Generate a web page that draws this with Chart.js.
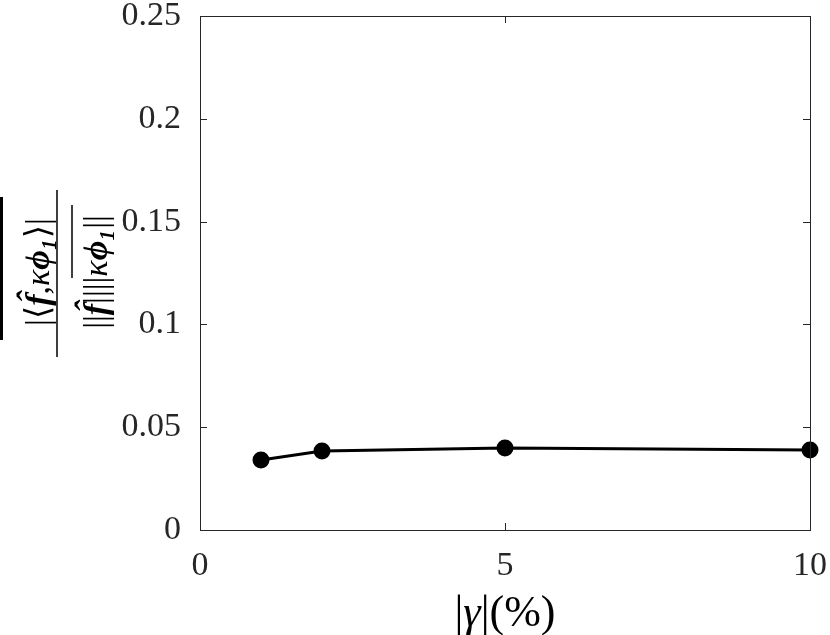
<!DOCTYPE html>
<html>
<head>
<meta charset="utf-8">
<script src="https://cdn.jsdelivr.net/npm/chart.js@4.4.0/dist/chart.umd.min.js"></script>
<style>
  html, body { margin: 0; padding: 0; background: #fff; }
  #wrap { width: 830px; height: 635px; }
</style>
</head>
<body>
<div id="wrap"><canvas id="c" width="830" height="635"></canvas></div>
<script>
const gammaPct = [1, 2, 5, 10];
const ratio = [0.0340, 0.0384, 0.0399, 0.0389];
const xTicks = [0, 5, 10];
const yTicks = [0, 0.05, 0.1, 0.15, 0.2, 0.25];

const axisColor = '#262626';
const serif = '"Liberation Serif", "DejaVu Serif", serif';

// write a run of [text, fontStyle] pieces centred on cx
function drawRun(ctx, parts, size, cx, cy) {
    let total = 0;
    parts.forEach(p => { ctx.font = p[1] + size + 'px ' + serif; total += ctx.measureText(p[0]).width; });
    let x0 = cx - total / 2;
    parts.forEach(p => {
        ctx.font = p[1] + size + 'px ' + serif;
        ctx.fillText(p[0], x0, cy);
        x0 += ctx.measureText(p[0]).width;
    });
}

// box, inward ticks and the axis labels
const boxPlugin = {
    id: 'box',
    afterDraw(chart) {
        const { ctx, chartArea: a, scales } = chart;
        ctx.save();
        ctx.strokeStyle = axisColor;
        ctx.lineWidth = 1;
        ctx.strokeRect(a.left + 0.5, a.top + 0.5, a.right - a.left, a.bottom - a.top);
        ctx.beginPath();
        xTicks.forEach(v => {
            const px = Math.round(scales.x.getPixelForValue(v)) + 0.5;
            ctx.moveTo(px, a.bottom); ctx.lineTo(px, a.bottom - 7);
            ctx.moveTo(px, a.top); ctx.lineTo(px, a.top + 7);
        });
        yTicks.forEach(v => {
            const py = Math.round(scales.y.getPixelForValue(v)) + 0.5;
            ctx.moveTo(a.left, py); ctx.lineTo(a.left + 7, py);
            ctx.moveTo(a.right, py); ctx.lineTo(a.right - 7, py);
        });
        ctx.stroke();

        ctx.fillStyle = '#000';
        ctx.textBaseline = 'middle';
        ctx.textAlign = 'left';
        drawRun(ctx, [['|', ''], ['\u03B3', 'italic '], ['|(%)', '']], 44, (a.left + a.right) / 2, 614);

        // y label, rotated
        ctx.strokeStyle = '#000';
        ctx.translate(0, 272);
        ctx.rotate(-Math.PI / 2);
        drawRun(ctx, [['|\u27E8', ''], ['f\u0302', 'bold italic '], [',', ''], ['\u03BA', 'italic '],
                      ['\u03D5\u2081', 'bold italic '], ['\u27E9|', '']], 34, 0, 40);
        drawRun(ctx, [['||', ''], ['f\u0302', 'bold italic '], ['||||', ''], ['\u03BA', 'italic '],
                      ['\u03D5\u2081', 'bold italic '], ['||', '']], 34, 0, 98);
        ctx.lineWidth = 1.5;
        ctx.beginPath();
        ctx.moveTo(-85, 57); ctx.lineTo(82, 57);
        ctx.moveTo(-6, 72); ctx.lineTo(67, 72);
        ctx.stroke();
        ctx.lineWidth = 3;
        ctx.beginPath();
        ctx.moveTo(-68, 1.5); ctx.lineTo(75, 1.5);
        ctx.stroke();
        ctx.restore();
    }
};

new Chart(document.getElementById('c'), {
    type: 'line',
    data: {
        datasets: [{
            data: gammaPct.map((g, i) => ({ x: g, y: ratio[i] })),
            borderColor: '#000',
            backgroundColor: '#000',
            borderWidth: 3,
            pointRadius: 7,
            pointHoverRadius: 7,
            tension: 0,
            clip: false
        }]
    },
    options: {
        responsive: false,
        animation: false,
        layout: { autoPadding: false, padding: { top: 16, right: 20, left: 0, bottom: 0 } },
        plugins: { legend: { display: false }, tooltip: { enabled: false } },
        scales: {
            x: {
                type: 'linear',
                min: 0, max: 10,
                afterBuildTicks: s => { s.ticks = xTicks.map(v => ({ value: v })); },
                afterFit: s => { s.height = 105; s.paddingLeft = 0; s.paddingRight = 0; },
                grid: { display: false },
                border: { display: false },
                ticks: {
                    color: '#262626',
                    font: { family: serif, size: 34 },
                    padding: 8,
                    maxRotation: 0
                }
            },
            y: {
                min: 0, max: 0.25,
                afterBuildTicks: s => { s.ticks = yTicks.map(v => ({ value: v })); },
                afterFit: s => { s.width = 200; s.paddingTop = 0; s.paddingBottom = 0; },
                grid: { display: false },
                border: { display: false },
                ticks: {
                    color: '#262626',
                    font: { family: serif, size: 34 },
                    padding: 11,
                    callback: v => String(+v.toFixed(2))
                }
            }
        }
    },
    plugins: [boxPlugin]
});
</script>
</body>
</html>
